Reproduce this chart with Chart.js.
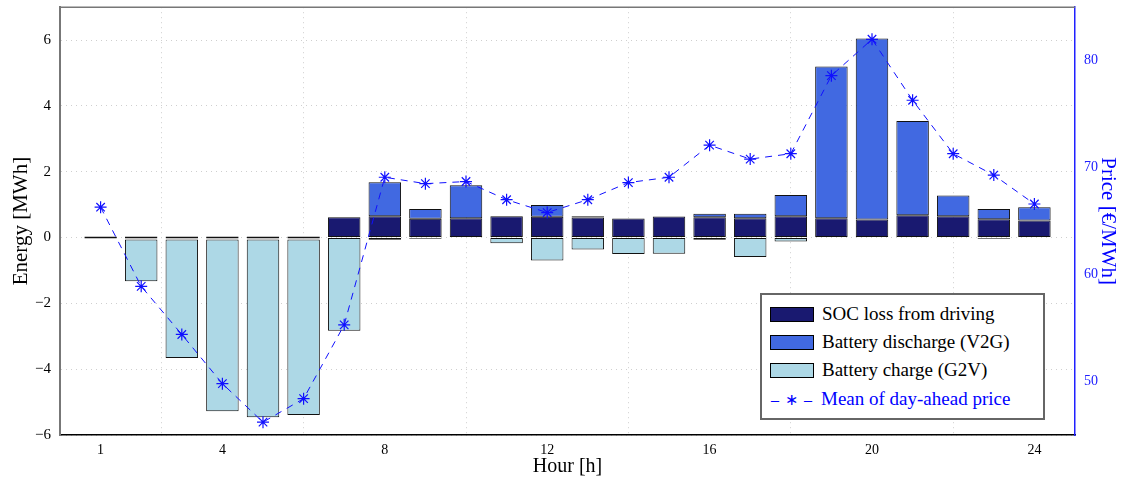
<!DOCTYPE html>
<html>
<head>
<meta charset="utf-8">
<script src="https://cdn.jsdelivr.net/npm/chart.js@4.4.1/dist/chart.umd.min.js"></script>
<style>
    html, body { margin: 0; padding: 0; background: #fff; }
    #wrap { position: relative; width: 1128px; height: 485px; }
    #legend {
        position: absolute; left: 760px; top: 293px; width: 285px; height: 127px;
        border: 2px solid #666; background: #fff; box-sizing: border-box;
        font-family: "Liberation Serif", serif; font-size: 19px; color: #000;
    }
    .row { position: absolute; left: 8px; height: 24px; display: flex; align-items: center; }
    .sw { width: 42px; height: 13px; border: 1px solid #000; margin-right: 8px; }
    .dash { width: 44px; margin-right: 7px; color: #00f; font-size: 16px; text-align: center; letter-spacing: 1px; }
</style>
</head>
<body>
<div id="wrap">
    <canvas id="chart" width="1128" height="485"></canvas>
    <div id="legend">
        <div class="row" style="top:7px"><div class="sw" style="background:#191970"></div>SOC loss from driving</div>
        <div class="row" style="top:35px"><div class="sw" style="background:#4169e1"></div>Battery discharge (V2G)</div>
        <div class="row" style="top:63px"><div class="sw" style="background:#add8e6"></div>Battery charge (G2V)</div>
        <div class="row" style="top:92px;color:#00f"><div class="dash">– ∗ –</div>Mean of day-ahead price</div>
    </div>
</div>
<script>
const hours = [1, 2, 3, 4, 5, 6, 7, 8, 9, 10, 11, 12, 13, 14, 15, 16, 17, 18, 19, 20, 21, 22, 23, 24];
const socLoss = [0, 0, 0, 0, 0, 0, 0.62, 0.65, 0.57, 0.59, 0.65, 0.63, 0.61, 0.58, 0.64, 0.62, 0.59, 0.65, 0.59, 0.55, 0.68, 0.65, 0.56, 0.52];
const discharge = [0, 0, 0, 0, 0, 0, 0, 1.03, 0.30, 1.00, 0, 0.36, 0.04, 0, 0, 0.10, 0.13, 0.64, 4.61, 5.50, 2.86, 0.63, 0.31, 0.40];
const charge = [0, -1.27, -3.60, -5.22, -5.40, -5.33, -2.83, -0.07, -0.04, -0.01, -0.17, -0.70, -0.36, -0.50, -0.49, -0.07, -0.59, -0.12, 0, 0, 0, -0.01, -0.04, 0];
const price = [66.3, 58.9, 54.4, 49.8, 46.2, 48.4, 55.3, 69.1, 68.5, 68.7, 67.0, 65.8, 67.0, 68.6, 69.1, 72.1, 70.8, 71.3, 78.6, 82.0, 76.3, 71.3, 69.3, 66.6];

const xTicks = [1, 4, 8, 12, 16, 20, 24];
const yTicks = [-6, -4, -2, 0, 2, 4, 6];
const priceTicks = [50, 60, 70, 80];

const serif = "'Liberation Serif', 'Times New Roman', serif";
const grid = { color: "#cfcfcf", lineWidth: 1, drawTicks: false };

const topBorder = {
    id: "topBorder",
    afterDraw(chart) {
        const { ctx, chartArea } = chart;
        ctx.save();
        ctx.strokeStyle = "#777";
        ctx.lineWidth = 1.5;
        ctx.beginPath();
        ctx.moveTo(chartArea.left, chartArea.top);
        ctx.lineTo(chartArea.right, chartArea.top);
        ctx.stroke();
        ctx.restore();
    },
};

function bar(label, data, color, extra) {
    return Object.assign({
        type: "bar", label, data, backgroundColor: color, borderColor: "#111",
        borderWidth: 1, borderSkipped: false, stack: "energy", yAxisID: "y", order: 1,
        categoryPercentage: 0.8, barPercentage: 1,
    }, extra || {});
}

function fitV(width) {
    return (s) => { s.width = width; s.paddingTop = 0; s.paddingBottom = 0; };
}

new Chart(document.getElementById("chart"), {
    data: {
        labels: hours,
        datasets: [
            bar("SOC loss from driving", socLoss, "#191970", { minBarLength: 2 }),
            bar("Battery discharge (V2G)", discharge, "#4169e1"),
            bar("Battery charge (G2V)", charge, "#add8e6"),
            {
                type: "line", label: "Mean of day-ahead price", data: price, yAxisID: "y2", order: 0,
                borderColor: "#1010ff", borderWidth: 1, borderDash: [7, 6], fill: false, tension: 0,
                pointStyle: "star", pointRadius: 6, pointBorderColor: "#1010ff", pointBorderWidth: 1.2,
                pointBackgroundColor: "#1010ff",
            },
        ],
    },
    options: {
        responsive: false,
        animation: false,
        layout: { padding: { top: 4, left: 0, right: 0, bottom: 0 } },
        plugins: { legend: { display: false }, tooltip: { enabled: false } },
        scales: {
            x: {
                type: "linear", min: 0, max: 25, offset: false,
                afterBuildTicks: (s) => { s.ticks = xTicks.map((v) => ({ value: v })); },
                afterFit: (s) => { s.height = 50; s.paddingLeft = 0; s.paddingRight = 0; },
                grid,
                border: { color: "#000", width: 1.5, dash: [1, 4] },
                ticks: { color: "#000", padding: 7, font: { family: serif, size: 14 } },
                title: { display: true, text: "Hour [h]", color: "#000", padding: { top: 0, bottom: 6 }, font: { family: serif, size: 20 } },
            },
            y: {
                position: "left", min: -6, max: 7, stacked: true,
                afterBuildTicks: (s) => { s.ticks = yTicks.map((v) => ({ value: v })); },
                afterFit: fitV(60),
                grid,
                border: { color: "#777", width: 2, dash: [1, 4] },
                ticks: {
                    color: "#000", padding: 9, font: { family: serif, size: 15 },
                    callback: (v) => (v < 0 ? "\u2212" + Math.abs(v) : String(v)),
                },
                title: { display: true, text: "Energy [MWh]", color: "#000", padding: { top: 9, bottom: 0 }, font: { family: serif, size: 21 } },
            },
            y2: {
                position: "right", min: 45, max: 85,
                afterBuildTicks: (s) => { s.ticks = priceTicks.map((v) => ({ value: v })); },
                afterFit: fitV(53),
                grid: { drawOnChartArea: false, drawTicks: false },
                border: { color: "#2020ff", width: 1.5 },
                ticks: { color: "#2020ff", padding: 9, font: { family: serif, size: 14 } },
                title: { display: true, text: "Price [€/MWh]", color: "#0000ff", padding: { top: 8, bottom: 0 }, font: { family: serif, size: 21 } },
            },
        },
    },
    plugins: [topBorder],
});
</script>
</body>
</html>
